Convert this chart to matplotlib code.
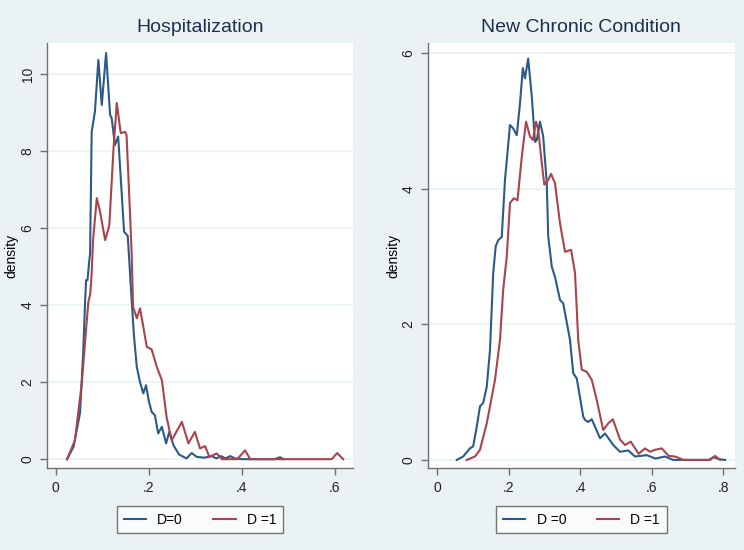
import matplotlib
matplotlib.use('Agg')
import matplotlib.pyplot as plt

# Hospitalization densities
hosp_x0 = [0.024, 0.038, 0.052, 0.059, 0.063, 0.065, 0.068, 0.072, 0.0736, 0.077, 0.084,
           0.0914, 0.0987, 0.108, 0.1166, 0.12, 0.127, 0.134, 0.1467, 0.1546, 0.163,
           0.168, 0.174, 0.181, 0.188, 0.194, 0.2, 0.206, 0.213, 0.22, 0.228, 0.237,
           0.244, 0.253, 0.265, 0.281, 0.292, 0.303, 0.32, 0.335, 0.345, 0.355, 0.365,
           0.375, 0.385, 0.40, 0.43, 0.47, 0.482, 0.49]
hosp_y0 = [0, 0.32, 1.2, 2.83, 4.13, 4.65, 4.65, 5.17, 5.35, 8.5, 9.03,
           10.37, 9.2, 10.55, 8.94, 8.86, 8.16, 8.38, 5.91, 5.8, 4.13,
           3.2, 2.4, 2.0, 1.71, 1.92, 1.5, 1.23, 1.14, 0.67, 0.84, 0.41,
           0.71, 0.36, 0.12, 0.02, 0.16, 0.06, 0.04, 0.08, 0.02, 0.08, 0.02,
           0.08, 0.02, 0.0, 0.0, 0.0, 0.05, 0.0]
hosp_x1 = [0.024, 0.041, 0.0557, 0.066, 0.07, 0.074, 0.077, 0.08, 0.088, 0.095, 0.106,
           0.115, 0.124, 0.131, 0.1395, 0.149, 0.152, 0.1596, 0.163, 0.166, 0.174,
           0.181, 0.1955, 0.206, 0.217, 0.228, 0.238, 0.249, 0.271, 0.285, 0.299,
           0.31, 0.321, 0.33, 0.346, 0.357, 0.39, 0.407, 0.418, 0.593, 0.605, 0.618]
hosp_y1 = [0, 0.49, 1.97, 3.53, 4.09, 4.3, 4.83, 5.69, 6.78, 6.43, 5.69,
           6.08, 8.08, 9.25, 8.47, 8.5, 8.42, 6.34, 5.35, 3.96, 3.66,
           3.92, 2.92, 2.85, 2.4, 2.05, 1.1, 0.49, 0.97, 0.41, 0.71,
           0.28, 0.34, 0.06, 0.15, 0.0, 0.0, 0.23, 0.0, 0.0, 0.16, 0.0]

# New chronic condition densities
ncc_x0 = [0.054, 0.072, 0.091, 0.10, 0.11, 0.119, 0.128, 0.138, 0.147, 0.156, 0.163,
          0.17, 0.18, 0.189, 0.203, 0.212, 0.222, 0.231, 0.239, 0.245, 0.254, 0.264,
          0.273, 0.278, 0.287, 0.296, 0.306, 0.31, 0.32, 0.329, 0.343, 0.352, 0.371,
          0.38, 0.39, 0.408, 0.413, 0.422, 0.432, 0.455, 0.469, 0.492, 0.511, 0.534,
          0.553, 0.586, 0.61, 0.637, 0.66, 0.76, 0.772, 0.79, 0.805]
ncc_y0 = [0, 0.05, 0.17, 0.2, 0.49, 0.79, 0.84, 1.08, 1.62, 2.75, 3.15,
          3.24, 3.29, 4.13, 4.94, 4.89, 4.79, 5.26, 5.78, 5.63, 5.92, 5.36,
          4.69, 4.72, 4.99, 4.77, 4.08, 3.3, 2.85, 2.7, 2.36, 2.31, 1.77,
          1.28, 1.2, 0.64, 0.59, 0.56, 0.6, 0.32, 0.39, 0.22, 0.12, 0.14,
          0.05, 0.07, 0.02, 0.05, 0.0, 0.0, 0.04, 0.01, 0.0]
ncc_x1 = [0.082, 0.105, 0.119, 0.138, 0.161, 0.175, 0.184, 0.194, 0.203, 0.214, 0.224,
          0.236, 0.248, 0.259, 0.267, 0.276, 0.282, 0.292, 0.299, 0.31, 0.318, 0.329,
          0.343, 0.357, 0.374, 0.385, 0.394, 0.404, 0.418, 0.432, 0.446, 0.464, 0.478,
          0.491, 0.511, 0.525, 0.541, 0.563, 0.581, 0.595, 0.609, 0.628, 0.647, 0.665,
          0.689, 0.763, 0.777, 0.791]
ncc_y1 = [0, 0.05, 0.15, 0.54, 1.18, 1.77, 2.51, 3.0, 3.79, 3.86, 3.83,
          4.47, 4.99, 4.77, 4.72, 4.99, 4.87, 4.38, 4.06, 4.13, 4.22, 4.08,
          3.49, 3.07, 3.1, 2.76, 1.77, 1.33, 1.3, 1.18, 0.88, 0.44, 0.54,
          0.6, 0.3, 0.22, 0.27, 0.09, 0.17, 0.12, 0.15, 0.17, 0.06, 0.05,
          0.0, 0.0, 0.06, 0.0]

hosp_xticks = [0, 0.2, 0.4, 0.6]
hosp_xlabels = ['0', '.2', '.4', '.6']
hosp_yticks = [0, 2, 4, 6, 8, 10]
ncc_xticks = [0, 0.2, 0.4, 0.6, 0.8]
ncc_xlabels = ['0', '.2', '.4', '.6', '.8']
ncc_yticks = [0, 2, 4, 6]

navy = '#2a5a87'
maroon = '#a8444c'
bg = '#eaf2f3'

plt.rcParams['font.family'] = ['Liberation Sans', 'DejaVu Sans']

fig = plt.figure(figsize=(7.44, 5.5), dpi=100, facecolor=bg)
ax1 = fig.add_axes([0.0632, 0.149, 0.4113, 0.7728])
ax2 = fig.add_axes([0.575, 0.149, 0.413, 0.7728])


def style(ax, title, xticks, xlabels, yticks, xlim, ylim, labels, label_x):
    ax.set_facecolor('white')
    ax.set_xlim(*xlim)
    ax.set_ylim(*ylim)
    ax.set_title(title, fontsize=14, color='#1c2f4d', pad=8)
    ax.set_xticks(xticks)
    ax.set_xticklabels(xlabels, fontsize=10)
    ax.set_yticks(yticks)
    ax.set_yticklabels([str(t) for t in yticks], fontsize=10, rotation=90, va='center')
    ax.set_ylabel('density', fontsize=10)
    ax.yaxis.set_label_coords(label_x, 0.5)
    for s in ['top', 'right']:
        ax.spines[s].set_visible(False)
    for s in ['left', 'bottom']:
        ax.spines[s].set_color('#707070')
        ax.spines[s].set_linewidth(1.0)
    ax.tick_params(length=5, color='#707070', width=1.0, labelcolor='#222222', pad=4)
    ax.yaxis.grid(True, color=bg, linewidth=1.2)
    ax.set_axisbelow(True)
    leg = ax.legend(labels, loc='upper center', bbox_to_anchor=(0.5, -0.072), ncol=2,
                    fontsize=10, frameon=True, fancybox=False, handlelength=1.6,
                    columnspacing=2.2, borderpad=0.5, handletextpad=0.8)
    leg.get_frame().set_edgecolor('#555555')
    leg.get_frame().set_linewidth(1.0)


ax1.plot(hosp_x0, hosp_y0, color=navy, lw=1.5, solid_joinstyle='round')
ax1.plot(hosp_x1, hosp_y1, color=maroon, lw=1.5, solid_joinstyle='round')
style(ax1, 'Hospitalization', hosp_xticks, hosp_xlabels, hosp_yticks,
      (-0.019, 0.639), (-0.23, 10.81), ['D=0', 'D =1'], -0.092)

ax2.plot(ncc_x0, ncc_y0, color=navy, lw=1.5, solid_joinstyle='round')
ax2.plot(ncc_x1, ncc_y1, color=maroon, lw=1.5, solid_joinstyle='round')
style(ax2, 'New Chronic Condition', ncc_xticks, ncc_xlabels, ncc_yticks,
      (-0.027, 0.833), (-0.12, 6.15), ['D =0', 'D =1'], -0.088)

plt.savefig('out.png', dpi=100, facecolor=bg)
